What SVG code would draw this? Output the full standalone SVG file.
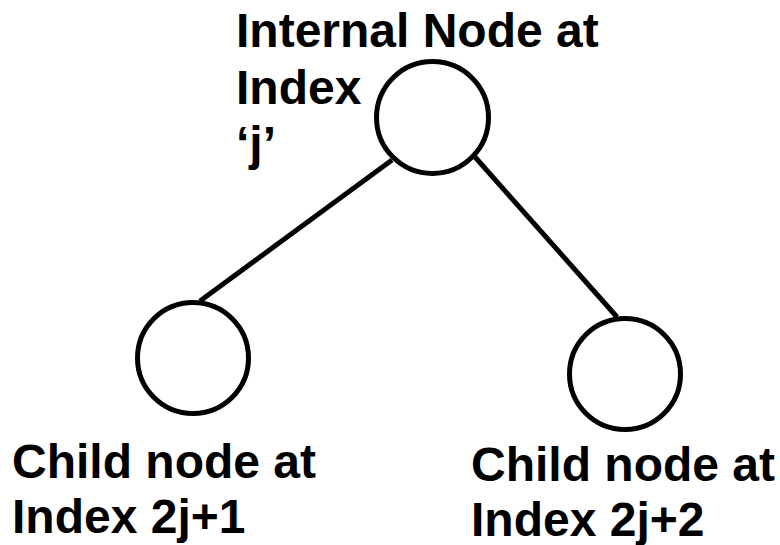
<svg xmlns="http://www.w3.org/2000/svg" width="780" height="545" viewBox="0 0 780 545">
<style>
.node{fill:#fff;stroke:#000;stroke-width:5}
.edge{stroke:#000;stroke-width:5;fill:none}
.lbl{font-family:"Liberation Sans",Arial,Helvetica,sans-serif;font-weight:bold;font-size:48px;fill:#000}
</style>
<rect width="780" height="545" fill="#fff"/>
<g id="connectors">
<line class="edge" x1="392" y1="160" x2="200" y2="301"/>
<line class="edge" x1="475" y1="157" x2="617" y2="317"/>
</g>
<g id="root">
<circle class="node" cx="432.5" cy="117.5" r="56"/>
<text class="lbl" x="236" y="47">Internal Node at</text>
<text class="lbl" x="236" y="104">Index</text>
<text class="lbl" x="236" y="160">‘j’</text>
</g>
<g id="left-child">
<circle class="node" cx="193" cy="358" r="55.5"/>
<text class="lbl" x="12" y="478">Child node at</text>
<text class="lbl" x="12" y="533">Index 2j+1</text>
</g>
<g id="right-child">
<circle class="node" cx="625" cy="374" r="55.5"/>
<text class="lbl" x="471" y="481">Child node at</text>
<text class="lbl" x="471" y="536">Index 2j+2</text>
</g>
</svg>
